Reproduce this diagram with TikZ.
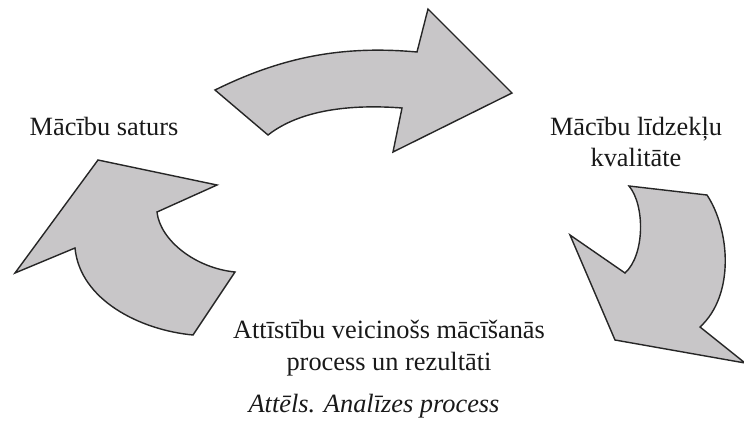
\documentclass[tikz,border=0pt]{standalone}
\usepackage{fontspec}
\setmainfont{Liberation Serif}
\definecolor{arrowgray}{RGB}{200,198,200}
\begin{document}
\begin{tikzpicture}[x=0.02cm, y=-0.02cm,
		bigarrow/.style={draw=black!85, fill=arrowgray, line width=0.8pt},
		lbl/.style={font=\fontsize{15}{18}\selectfont, text=black!90, inner sep=0pt, align=center}]
		\useasboundingbox (0, 0) rectangle (744, 423);

		\draw[bigarrow] (215, 90) .. controls (280, 58) and (340, 45) .. (417, 52)
			-- (428, 9) -- (512, 93) -- (393, 152) -- (402, 108)
			.. controls (350, 104) and (300, 110) .. (268, 135) -- cycle;

		\draw[bigarrow] (98, 160) -- (217, 185) -- (157, 212)
			.. controls (160, 240) and (195, 268) .. (235, 272) -- (193, 335)
			.. controls (140, 330) and (80, 300) .. (75, 248) -- (15, 273) -- cycle;

		\draw[bigarrow] (629, 186) -- (707, 195)
			.. controls (730, 230) and (735, 295) .. (700, 327)
			-- (745, 363) -- (615, 340) -- (570, 235) -- (625, 273)
			.. controls (645, 255) and (645, 205) .. cycle;

		\node[lbl, anchor=base] (saturs) at (104, 135) {Mācību saturs};
		\node[lbl] (lidzekli) at (636, 142) {Mācību līdzekļu\\kvalitāte};
		\node[lbl] (process) at (389, 348) {Attīstību veicinošs mācīšanās\\process un rezultāti};
		\node[lbl, anchor=base, font=\fontsize{15}{18}\selectfont\itshape] (caption) at (374, 412) {Attēls. Analīzes process};
	\end{tikzpicture}
\end{document}
